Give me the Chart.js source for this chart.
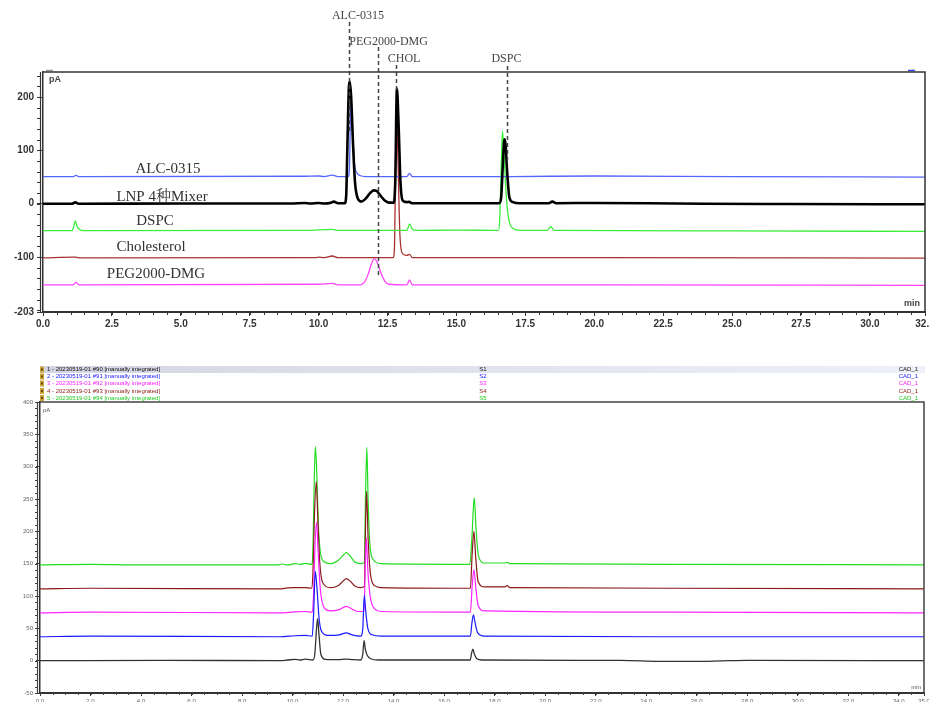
<!DOCTYPE html>
<html>
<head>
<meta charset="utf-8">
<script src="https://cdn.jsdelivr.net/npm/chart.js@4/dist/chart.umd.min.js"></script>
<style>
  html, body { margin: 0; padding: 0; background: #fff; }
  body { width: 929px; height: 702px; position: relative; overflow: hidden; }
  canvas { position: absolute; left: 0; }
  #topChart { top: 0; }
  #bottomChart { top: 358px; }
</style>
</head>
<body>
<canvas id="topChart" width="929" height="340"></canvas>
<canvas id="bottomChart" width="929" height="344"></canvas>
<script>
// ---------- Overlay of the four lipid standards and the LNP mixture (retention time, min / signal, pA) ----------
const topTimeTicks = [0, 2.5, 5, 7.5, 10, 12.5, 15, 17.5, 20, 22.5, 25, 27.5, 30, 32];
const topSignalTicks = [-203, -100, 0, 100, 200];
const topSignalRange = [-203, 247];

const mixerTrace = [[0,0],[1.05,0],[1.17,2.5],[1.3,0],[5,0.3],[9.0,0.5],[9.5,1.5],[9.7,0.5],[10.0,1.5],[10.2,0.5],[10.45,2],[10.55,4],[10.7,1],[10.95,1],[11.0,15],[11.04,100],[11.1,220],[11.13,229],[11.18,200],[11.25,110],[11.32,40],[11.42,10],[11.55,4],[11.7,9],[11.85,19],[12.0,25],[12.1,24],[12.25,15],[12.4,6],[12.55,2],[12.72,2],[12.78,40],[12.84,216],[12.9,150],[12.97,40],[13.05,6],[13.2,3],[13.28,3.5],[13.4,1],[15,1],[16.55,1],[16.62,10],[16.68,70],[16.74,121],[16.78,112],[16.84,60],[16.92,12],[17.05,3],[17.3,1],[18.35,1],[18.48,4],[18.62,1],[20,1.5],[22,1],[24,0],[27,-0.5],[32,-1]];
const alcTrace = [[0,51],[1.1,51],[1.2,53],[1.3,51],[9.5,51.5],[10.0,52],[10.2,51],[10.5,53.5],[10.7,51],[11.08,51],[11.12,70],[11.17,200],[11.22,150],[11.3,75],[11.4,57],[11.5,53],[11.7,51],[13.2,51],[13.3,57],[13.4,51],[17,51],[20,52],[25,51],[32,50]];
const dspcTrace = [[0,-50.5],[1.05,-50.5],[1.12,-42],[1.17,-32],[1.23,-42],[1.35,-49],[1.5,-50.5],[9.5,-50],[10.5,-48],[10.7,-50],[13.2,-50],[13.3,-38],[13.4,-48],[13.55,-50],[15,-49.5],[16.52,-50],[16.57,-30],[16.62,60],[16.67,136],[16.72,100],[16.8,20],[16.9,-30],[17.05,-46],[17.3,-50],[18.3,-50],[18.42,-43],[18.55,-50],[25,-51],[32,-52]];
const cholTrace = [[0,-101.5],[1.15,-100],[1.3,-101.5],[9.9,-101],[10.0,-100],[10.2,-101],[10.5,-98],[10.7,-101],[12.7,-101],[12.75,-85],[12.8,100],[12.84,150],[12.88,80],[12.95,-60],[13.05,-94],[13.2,-97],[13.3,-95],[13.4,-101],[20,-101],[32,-102]];
const pegTrace = [[0,-152],[1.1,-152],[1.2,-147],[1.3,-152],[10.0,-151],[10.5,-149.5],[10.7,-152],[11.5,-152],[11.65,-148],[11.8,-132],[11.92,-112],[12.02,-103],[12.12,-109],[12.25,-128],[12.4,-145],[12.55,-151],[13.2,-152],[13.3,-143],[13.4,-152],[20,-152],[32,-153]];

const traceNames = ['ALC-0315', 'LNP 4种Mixer', 'DSPC', 'Cholesterol', 'PEG2000-DMG'];

// dashed peak markers: name, retention time, signal where the dash stops
const peakMarkNames = ['ALC-0315', 'PEG2000-DMG', 'CHOL', 'DSPC'];
const peakMarkTimes = [11.10, 12.14, 12.81, 16.85];
const peakMarkEnds = [135, -138, 207, 82];

// ---------- Stacked overlay of five injections ----------
const bottomTimeTicks = [0,2,4,6,8,10,12,14,16,18,20,22,24,26,28,30,32,34,35];
const bottomSignalTicks = [-50,0,50,100,150,200,250,300,350,400];
const bottomSignalRange = [-50, 400];

const runNames = [
  '1 - 20230519-01 #90 [manually integrated]',
  '2 - 20230519-01 #91 [manually integrated]',
  '3 - 20230519-01 #92 [manually integrated]',
  '4 - 20230519-01 #93 [manually integrated]',
  '5 - 20230519-01 #94 [manually integrated]'
];
const runSamples = ['S1', 'S2', 'S3', 'S4', 'S5'];
const runChannels = ['CAD_1', 'CAD_1', 'CAD_1', 'CAD_1', 'CAD_1'];

const run90 = [[0,0],[5,0.5],[9.5,0],[9.8,1],[10.1,2],[10.3,1],[10.5,2.5],[10.8,1],[10.88,10],[10.95,50],[10.99,65],[11.05,38],[11.12,10],[11.3,2],[11.8,1.5],[12.1,2.5],[12.4,1.5],[12.7,1],[12.78,10],[12.83,31],[12.88,18],[12.96,8],[13.1,3],[13.4,1],[17.03,1],[17.09,12],[17.14,18],[17.2,10],[17.3,3],[17.5,1],[23,0.5],[24.5,-1],[26,-1.2],[27,-0.3],[28,0.5],[35,0]];
const run91 = [[0,37],[2,38],[9.5,37],[10.1,38.5],[10.5,39],[10.78,38],[10.83,70],[10.9,138],[10.97,110],[11.05,65],[11.15,45],[11.4,39],[11.85,40],[12.13,43],[12.35,40],[12.7,38],[12.78,50],[12.84,101],[12.9,75],[12.98,50],[13.15,40],[13.5,38],[17.04,38],[17.1,58],[17.16,71],[17.23,58],[17.33,43],[17.6,38],[25,37],[35,37]];
const run92 = [[0,74],[2,75],[9.5,74],[10.1,75.5],[10.5,76],[10.78,75],[10.83,100],[10.89,180],[10.95,214],[11.01,170],[11.1,110],[11.25,82],[11.5,77],[11.85,79],[12.13,84],[12.35,80],[12.6,76],[12.83,76],[12.88,150],[12.92,190],[12.98,140],[13.07,100],[13.25,80],[13.5,76],[17.04,75],[17.11,115],[17.18,141],[17.25,115],[17.35,85],[17.6,77],[25,75],[35,74]];
const run93 = [[0,111],[2,112],[9.5,111],[9.8,112.5],[10.1,113],[10.5,113],[10.75,112],[10.8,130],[10.87,230],[10.94,277],[11.0,220],[11.08,150],[11.2,120],[11.5,113],[11.8,116],[12.0,123],[12.13,127],[12.28,123],[12.45,116],[12.7,113],[12.84,115],[12.89,210],[12.93,262],[12.99,190],[13.08,135],[13.25,116],[13.5,113],[17.04,112],[17.11,165],[17.18,200],[17.25,160],[17.35,122],[17.6,114],[18.4,114],[18.5,116],[18.6,113],[25,112],[35,111]];
const run94 = [[0,148],[2,149],[4,148],[9.4,148],[9.6,149.5],[9.8,148],[10.1,150],[10.3,149],[10.5,150.5],[10.75,149],[10.8,165],[10.85,260],[10.9,331],[10.95,300],[11.02,210],[11.1,168],[11.25,153],[11.5,150],[11.8,155],[12.0,163],[12.13,167],[12.28,162],[12.45,153],[12.7,150],[12.84,152],[12.89,260],[12.94,330],[12.99,250],[13.06,180],[13.2,156],[13.5,150],[17.02,149],[17.1,190],[17.19,252],[17.27,200],[17.36,162],[17.6,151],[18.4,151],[18.5,152],[18.6,150],[25,149],[35,148]];

// ---------- helpers ----------
const SANS = "Arial, 'Liberation Sans', sans-serif";
const SERIF = "'Liberation Serif', 'Times New Roman', 'Noto Serif CJK SC', 'Noto Sans CJK SC', serif";

function trace(label, pts, color, width) {
  return {
    label,
    data: pts.map(p => ({ x: p[0], y: p[1] })),
    borderColor: color,
    borderWidth: width,
    pointRadius: 0,
    fill: false,
    cubicInterpolationMode: 'monotone'
  };
}

// frame, minor ticks and corner captions drawn around the plot area
const chromFrame = {
  id: 'chromFrame',
  afterDraw(chart, args, o) {
    const { ctx, chartArea: a } = chart;
    const x = chart.scales.x, y = chart.scales.y;
    ctx.save();
    ctx.strokeStyle = o.color;
    ctx.lineWidth = 1;
    ctx.beginPath();
    for (let v = x.min; v <= x.max + 1e-9; v += o.xMinor) {
      const px = Math.round(x.getPixelForValue(v)) + 0.5;
      ctx.moveTo(px, a.bottom); ctx.lineTo(px, a.bottom + o.minorLen);
    }
    for (let v = Math.ceil(y.min / o.yMinor) * o.yMinor; v <= y.max + 1e-9; v += o.yMinor) {
      const py = Math.round(y.getPixelForValue(v)) + 0.5;
      ctx.moveTo(a.left - o.leftGap, py); ctx.lineTo(a.left - o.leftGap - o.minorLen, py);
    }
    ctx.stroke();
    // outer frame
    ctx.lineWidth = o.frameWidth;
    ctx.beginPath();
    ctx.moveTo(a.left, a.top); ctx.lineTo(a.right, a.top); ctx.lineTo(a.right, a.bottom);
    ctx.stroke();
    ctx.lineWidth = 1.2;
    ctx.beginPath();
    ctx.moveTo(a.left - o.leftGap + 0.5, a.top); ctx.lineTo(a.left - o.leftGap + 0.5, a.bottom + 1);
    ctx.stroke();
    // captions
    ctx.fillStyle = o.textColor;
    ctx.font = o.captionFont;
    ctx.textBaseline = 'middle';
    ctx.textAlign = 'left';
    ctx.fillText('pA', a.left + o.pAOffset[0], a.top + o.pAOffset[1]);
    ctx.textAlign = 'right';
    ctx.fillText('min', a.right - o.minOffset[0], a.bottom - o.minOffset[1]);
    ctx.restore();
  }
};

// dashed peak markers and their names above the top plot
const peakMarkers = {
  id: 'peakMarkers',
  afterDatasetsDraw(chart, args, o) {
    const { ctx } = chart;
    const x = chart.scales.x, y = chart.scales.y;
    ctx.save();
    ctx.strokeStyle = o.color;
    ctx.lineWidth = o.lineWidth;
    ctx.setLineDash(o.dash);
    peakMarkNames.forEach((name, i) => {
      const px = Math.round(x.getPixelForValue(peakMarkTimes[i])) + 0.5;
      ctx.beginPath();
      ctx.moveTo(px, o.lineTops[i]);
      ctx.lineTo(px, y.getPixelForValue(peakMarkEnds[i]));
      ctx.stroke();
    });
    ctx.setLineDash([]);
    ctx.fillStyle = o.textColor;
    ctx.font = o.font;
    ctx.textAlign = 'center';
    ctx.textBaseline = 'middle';
    peakMarkNames.forEach((name, i) => {
      ctx.fillText(name, x.getPixelForValue(peakMarkTimes[i]) + o.labelShift[i], o.labelYs[i]);
    });
    // small window marks on the top edge
    ctx.lineWidth = 1.5;
    ctx.strokeStyle = '#999';
    ctx.beginPath(); ctx.moveTo(46, 70.5); ctx.lineTo(53, 70.5); ctx.stroke();
    ctx.strokeStyle = '#3344ee';
    ctx.beginPath(); ctx.moveTo(908, 70.5); ctx.lineTo(915, 70.5); ctx.stroke();
    ctx.restore();
  }
};

// names written next to each baseline
const traceLabels = {
  id: 'traceLabels',
  afterDatasetsDraw(chart, args, o) {
    const { ctx } = chart;
    ctx.save();
    ctx.fillStyle = o.color;
    ctx.font = o.font;
    ctx.textAlign = 'center';
    ctx.textBaseline = 'middle';
    traceNames.forEach((name, i) => ctx.fillText(name, o.positions[i][0], o.positions[i][1]));
    ctx.restore();
  }
};

// injection list above the bottom plot
const runHeader = {
  id: 'runHeader',
  afterDraw(chart, args, o) {
    const { ctx } = chart;
    ctx.save();
    const g = ctx.createLinearGradient(40, 0, 925, 0);
    g.addColorStop(0, '#d3d5e2');
    g.addColorStop(1, '#eef0f9');
    ctx.fillStyle = g;
    ctx.fillRect(40, o.rowYs[0] - 3.5, 885, 7);
    ctx.font = o.font;
    ctx.textBaseline = 'middle';
    runNames.forEach((name, i) => {
      const yy = o.rowYs[i];
      ctx.fillStyle = '#c9a23a';
      ctx.fillRect(40, yy - 3, 4, 6);
      ctx.fillStyle = '#6b4e10';
      ctx.fillRect(41, yy - 1, 2, 2);
      ctx.fillStyle = o.colors[i];
      ctx.textAlign = 'left';
      ctx.fillText(name, 47, yy);
      ctx.textAlign = 'center';
      ctx.fillText(runSamples[i], 483, yy);
      ctx.textAlign = 'right';
      ctx.fillText(runChannels[i], 918, yy);
    });
    ctx.restore();
  }
};

function axis(min, max, tickValues, fmt, font, color, tickLen, box, isX) {
  return {
    type: 'linear',
    min, max,
    afterBuildTicks: s => { s.ticks = tickValues.map(v => ({ value: v })); },
    afterFit: s => {
      if (isX) { s.height = box; } else { s.width = box; }
      s.paddingLeft = 0; s.paddingRight = 0; s.paddingTop = 0; s.paddingBottom = 0;
    },
    ticks: { callback: fmt, font, color, padding: isX ? 2 : 3, maxRotation: 0, autoSkip: false },
    grid: { drawOnChartArea: false, drawTicks: true, tickLength: tickLen, color: '#333', lineWidth: 1 },
    border: { display: true, color: '#333', width: isX ? 2 : 1.5 }
  };
}

// ---------- top chart ----------
new Chart(document.getElementById('topChart'), {
  type: 'line',
  data: {
    datasets: [
      trace('LNP 4种Mixer', mixerTrace, '#000000', 2.6),
      trace('ALC-0315', alcTrace, '#5565ff', 1.3),
      trace('DSPC', dspcTrace, '#3cee3c', 1.3),
      trace('Cholesterol', cholTrace, '#a83232', 1.3),
      trace('PEG2000-DMG', pegTrace, '#ff44ff', 1.3)
    ]
  },
  options: {
    responsive: false,
    animation: false,
    events: [],
    layout: { padding: { top: 72, right: 4, left: 0, bottom: 0 } },
    plugins: {
      legend: { display: false },
      tooltip: { enabled: false },
      chromFrame: { color: '#333', xMinor: 0.5, yMinor: 20, minorLen: 3, leftGap: 3, frameWidth: 1.5,
        textColor: '#444', captionFont: 'bold 9px ' + SANS, pAOffset: [6, 8], minOffset: [5, 8] },
      peakMarkers: { color: '#444', lineWidth: 1.5, dash: [4, 3], textColor: '#444', font: '12px ' + SERIF,
        lineTops: [22, 47, 65, 66], labelShift: [9, 11, 8, -1], labelYs: [16, 42, 59, 59] },
      traceLabels: { color: '#333', font: '15px ' + SERIF,
        positions: [[168, 169], [162, 197], [155, 221], [151, 247], [156, 274]] }
    },
    scales: {
      x: axis(0, 32, topTimeTicks, v => Number(v).toFixed(1), { family: SANS, size: 10, weight: 'bold' }, '#333', 4, 28, true),
      y: axis(topSignalRange[0], topSignalRange[1], topSignalTicks, v => String(v), { family: SANS, size: 10, weight: 'bold' }, '#333', 6, 43, false)
    }
  },
  plugins: [chromFrame, peakMarkers, traceLabels]
});

// ---------- bottom chart ----------
const runColors = ['#333333', '#1a1aff', '#ff22ff', '#8b1a1a', '#22dd22'];
new Chart(document.getElementById('bottomChart'), {
  type: 'line',
  data: {
    datasets: [
      trace(runNames[0], run90, runColors[0], 1.3),
      trace(runNames[1], run91, runColors[1], 1.2),
      trace(runNames[2], run92, runColors[2], 1.2),
      trace(runNames[3], run93, runColors[3], 1.2),
      trace(runNames[4], run94, runColors[4], 1.2)
    ]
  },
  options: {
    responsive: false,
    animation: false,
    events: [],
    layout: { padding: { top: 44, right: 5, left: 0, bottom: 0 } },
    plugins: {
      legend: { display: false },
      tooltip: { enabled: false },
      chromFrame: { color: '#444', xMinor: 0.5, yMinor: 10, minorLen: 2, leftGap: 3, frameWidth: 1.5,
        textColor: '#555', captionFont: '6px ' + SANS, pAOffset: [3, 8], minOffset: [3, 6] },
      runHeader: { font: '6px ' + SANS, rowYs: [11.5, 18.5, 25.5, 33, 40],
        colors: ['#111111', '#1a1aff', '#ff22ff', '#8b1a1a', '#22cc22'] }
    },
    scales: {
      x: axis(0, 35, bottomTimeTicks, v => Number(v).toFixed(1), { family: SANS, size: 6 }, '#666', 3, 9, true),
      y: axis(bottomSignalRange[0], bottomSignalRange[1], bottomSignalTicks, v => String(v), { family: SANS, size: 6 }, '#666', 4, 40, false)
    }
  },
  plugins: [chromFrame, runHeader]
});
</script>
</body>
</html>
